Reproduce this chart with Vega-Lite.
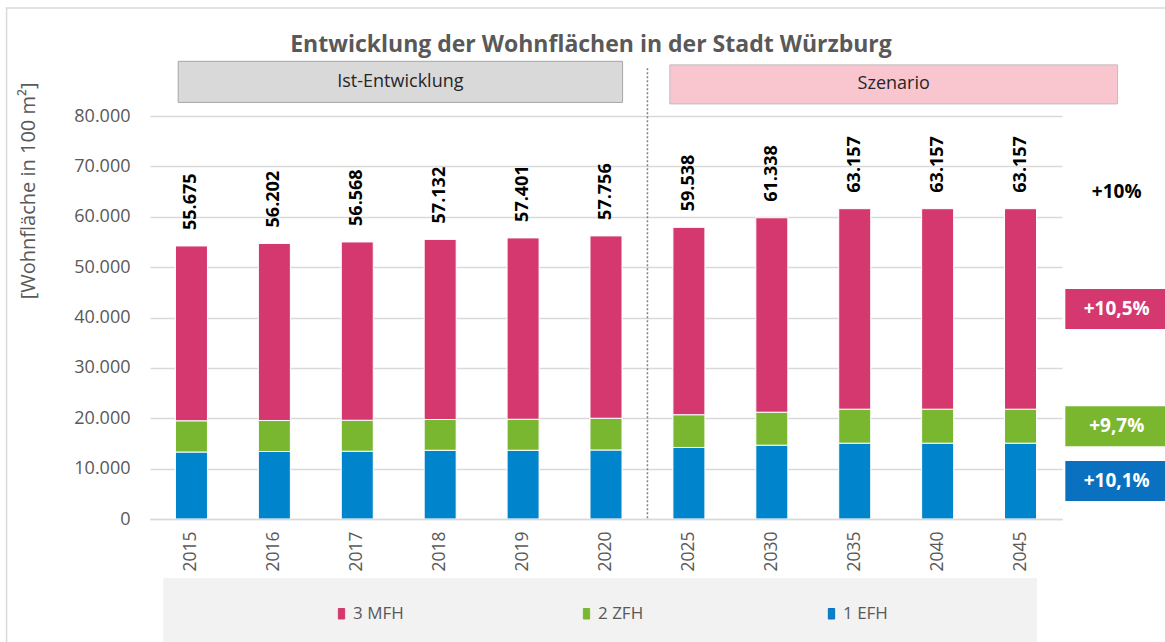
{
  "$schema": "https://vega.github.io/schema/vega-lite/v6.json",
  "width": 912,
  "height": 403,
  "autosize": {"type": "none"},
  "padding": {"left": 150, "top": 116, "right": 103, "bottom": 123},
  "background": "white",
  "config": {
    "locale": {"number": {"decimal": ",", "thousands": ".", "grouping": [3], "currency": ["", " €"]}},
    "font": "Open Sans",
    "view": {"stroke": null},
    "scale": {"bandPaddingInner": 0, "bandPaddingOuter": 0}
  },
  "title": {
    "text": "Entwicklung der Wohnflächen in der Stadt Würzburg",
    "fontSize": 23,
    "fontWeight": "bold",
    "color": "#595959",
    "anchor": "middle",
    "frame": "group",
    "dx": -15,
    "offset": -50
  },
  "datasets": {
    "werte": [
      {"jahr": "2015", "typ": "1 EFH", "wert": 13300},
      {"jahr": "2015", "typ": "2 ZFH", "wert": 6200},
      {"jahr": "2015", "typ": "3 MFH", "wert": 34700},
      {"jahr": "2016", "typ": "1 EFH", "wert": 13400},
      {"jahr": "2016", "typ": "2 ZFH", "wert": 6150},
      {"jahr": "2016", "typ": "3 MFH", "wert": 35150},
      {"jahr": "2017", "typ": "1 EFH", "wert": 13450},
      {"jahr": "2017", "typ": "2 ZFH", "wert": 6150},
      {"jahr": "2017", "typ": "3 MFH", "wert": 35400},
      {"jahr": "2018", "typ": "1 EFH", "wert": 13650},
      {"jahr": "2018", "typ": "2 ZFH", "wert": 6100},
      {"jahr": "2018", "typ": "3 MFH", "wert": 35750},
      {"jahr": "2019", "typ": "1 EFH", "wert": 13650},
      {"jahr": "2019", "typ": "2 ZFH", "wert": 6150},
      {"jahr": "2019", "typ": "3 MFH", "wert": 36000},
      {"jahr": "2020", "typ": "1 EFH", "wert": 13700},
      {"jahr": "2020", "typ": "2 ZFH", "wert": 6300},
      {"jahr": "2020", "typ": "3 MFH", "wert": 36200},
      {"jahr": "2025", "typ": "1 EFH", "wert": 14200},
      {"jahr": "2025", "typ": "2 ZFH", "wert": 6500},
      {"jahr": "2025", "typ": "3 MFH", "wert": 37200},
      {"jahr": "2030", "typ": "1 EFH", "wert": 14650},
      {"jahr": "2030", "typ": "2 ZFH", "wert": 6550},
      {"jahr": "2030", "typ": "3 MFH", "wert": 38600},
      {"jahr": "2035", "typ": "1 EFH", "wert": 15050},
      {"jahr": "2035", "typ": "2 ZFH", "wert": 6750},
      {"jahr": "2035", "typ": "3 MFH", "wert": 39800},
      {"jahr": "2040", "typ": "1 EFH", "wert": 15050},
      {"jahr": "2040", "typ": "2 ZFH", "wert": 6750},
      {"jahr": "2040", "typ": "3 MFH", "wert": 39800},
      {"jahr": "2045", "typ": "1 EFH", "wert": 15050},
      {"jahr": "2045", "typ": "2 ZFH", "wert": 6750},
      {"jahr": "2045", "typ": "3 MFH", "wert": 39800}
    ],
    "summen": [
      {"jahr": "2015", "gesamt": 55675},
      {"jahr": "2016", "gesamt": 56202},
      {"jahr": "2017", "gesamt": 56568},
      {"jahr": "2018", "gesamt": 57132},
      {"jahr": "2019", "gesamt": 57401},
      {"jahr": "2020", "gesamt": 57756},
      {"jahr": "2025", "gesamt": 59538},
      {"jahr": "2030", "gesamt": 61338},
      {"jahr": "2035", "gesamt": 63157},
      {"jahr": "2040", "gesamt": 63157},
      {"jahr": "2045", "gesamt": 63157}
    ],
    "aenderung": [
      {"typ": "3 MFH", "text": "+10,5%"},
      {"typ": "2 ZFH", "text": "+9,7%"},
      {"typ": "1 EFH", "text": "+10,1%"},
      {"typ": "Gesamt", "text": "+10%"}
    ]
  },
  "layer": [
    {
      "data": {"values": [{}]},
      "mark": {"type": "rect", "fill": null, "stroke": "#d9d9d9", "strokeWidth": 1.5},
      "encoding": {
        "x": {"datum": "2015", "type": "nominal", "bandPosition": -1.73, "scale": {"domain": ["2015","2016","2017","2018","2019","2020","2025","2030","2035","2040","2045"]}},
        "x2": {"datum": "2045", "bandPosition": 3},
        "y": {"datum": 101440, "type": "quantitative", "scale": {"domain": [0, 80000]}},
        "y2": {"datum": -30000}
      }
    },
    {
      "data": {"values": [{}]},
      "mark": {"type": "rect", "fill": "#f2f2f2"},
      "encoding": {
        "x": {"datum": "2015", "type": "nominal", "bandPosition": 0.16, "scale": {"domain": ["2015","2016","2017","2018","2019","2020","2025","2030","2035","2040","2045"]}},
        "x2": {"datum": "2045", "bandPosition": 0.7},
        "y": {"datum": -11710, "type": "quantitative", "scale": {"domain": [0, 80000]}},
        "y2": {"datum": -30000}
      }
    },
    {
      "data": {"values": [{}]},
      "mark": {"type": "rect", "fill": "#d9d9d9", "stroke": "#a6a6a6", "strokeWidth": 1},
      "encoding": {
        "x": {"datum": "2015", "type": "nominal", "bandPosition": 0.34, "scale": {"domain": ["2015","2016","2017","2018","2019","2020","2025","2030","2035","2040","2045"]}},
        "x2": {"datum": "2020", "bandPosition": 0.7},
        "y": {"datum": 90850, "type": "quantitative", "scale": {"domain": [0, 80000]}},
        "y2": {"datum": 82700}
      }
    },
    {
      "data": {"values": [{}]},
      "mark": {"type": "rect", "fill": "#f9c5cf", "stroke": "#bfbfbf", "strokeWidth": 1},
      "encoding": {
        "x": {"datum": "2025", "type": "nominal", "bandPosition": 0.27, "scale": {"domain": ["2015","2016","2017","2018","2019","2020","2025","2030","2035","2040","2045"]}},
        "x2": {"datum": "2045", "bandPosition": 1.67},
        "y": {"datum": 90150, "type": "quantitative", "scale": {"domain": [0, 80000]}},
        "y2": {"datum": 82400}
      }
    },
    {
      "data": {"values": [{}]},
      "mark": {"type": "text", "fontSize": 18, "color": "#262626", "baseline": "middle", "align": "center"},
      "encoding": {
        "x": {"datum": "2018", "type": "nominal", "bandPosition": 0.02, "scale": {"domain": ["2015","2016","2017","2018","2019","2020","2025","2030","2035","2040","2045"]}},
        "y": {"datum": 86800, "type": "quantitative", "scale": {"domain": [0, 80000]}},
        "text": {"value": "Ist-Entwicklung"}
      }
    },
    {
      "data": {"values": [{}]},
      "mark": {"type": "text", "fontSize": 18, "color": "#262626", "baseline": "middle", "align": "center"},
      "encoding": {
        "x": {"datum": "2035", "type": "nominal", "bandPosition": 0.97, "scale": {"domain": ["2015","2016","2017","2018","2019","2020","2025","2030","2035","2040","2045"]}},
        "y": {"datum": 86300, "type": "quantitative", "scale": {"domain": [0, 80000]}},
        "text": {"value": "Szenario"}
      }
    },
    {
      "data": {"values": [{}]},
      "mark": {"type": "rule", "stroke": "#7f7f7f", "strokeWidth": 1.5, "strokeDash": [2, 2]},
      "encoding": {
        "x": {"datum": "2025", "type": "nominal", "bandPosition": 0, "scale": {"domain": ["2015","2016","2017","2018","2019","2020","2025","2030","2035","2040","2045"]}},
        "y": {"datum": 89500, "type": "quantitative", "scale": {"domain": [0, 80000]}},
        "y2": {"datum": 0}
      }
    },
    {
      "data": {"name": "werte"},
      "mark": {"type": "bar", "width": {"band": 0.386}, "stroke": "white", "strokeWidth": 1},
      "encoding": {
        "x": {
          "field": "jahr", "type": "nominal",
          "scale": {"domain": ["2015","2016","2017","2018","2019","2020","2025","2030","2035","2040","2045"]},
          "axis": {"title": null, "labelAngle": 270, "ticks": false, "domainColor": "#d9d9d9", "domainWidth": 1.5, "labelColor": "#595959", "labelFontSize": 17.5, "labelPadding": 12}
        },
        "y": {
          "field": "wert", "type": "quantitative", "stack": "zero",
          "scale": {"domain": [0, 80000]},
          "axis": {
            "title": "[Wohnfläche in 100  m²]", "format": ",d", "tickCount": 8,
            "grid": true, "gridColor": "#d9d9d9", "gridWidth": 1.5,
            "domain": false, "ticks": false, "labelPadding": 20, "labelFontSize": 18, "labelColor": "#595959",
            "titleFontSize": 20, "titleFontWeight": "normal", "titleColor": "#595959",
            "titleAnchor": "end", "titleAngle": 270, "titleAlign": "right", "titleBaseline": "middle",
            "titleX": -122, "titleY": -34
          }
        },
        "color": {
          "field": "typ", "type": "nominal",
          "scale": {"domain": ["3 MFH", "2 ZFH", "1 EFH"], "range": ["#d4386f", "#78b72f", "#0084cb"]},
          "legend": {
            "orient": "none", "legendX": 183, "legendY": 489, "direction": "horizontal", "columns": 3,
            "title": null, "columnPadding": 174, "gridAlign": "all",
            "symbolType": "M-0.6,-1L0.6,-1L0.6,1L-0.6,1Z", "symbolSize": 110, "symbolStrokeColor": "white", "symbolStrokeWidth": 1,
            "labelFontSize": 17, "labelColor": "#595959", "labelOffset": 3
          }
        },
        "order": {"field": "typ", "sort": "ascending"}
      }
    },
    {
      "data": {"name": "werte"},
      "transform": [
        {"aggregate": [{"op": "sum", "field": "wert", "as": "oben"}], "groupby": ["jahr"]},
        {"lookup": "jahr", "from": {"data": {"name": "summen"}, "key": "jahr", "fields": ["gesamt"]}}
      ],
      "mark": {"type": "text", "angle": 270, "align": "left", "baseline": "middle", "dx": 16, "fontSize": 18, "fontWeight": "bold", "color": "black"},
      "encoding": {
        "x": {"field": "jahr", "type": "nominal", "scale": {"domain": ["2015","2016","2017","2018","2019","2020","2025","2030","2035","2040","2045"]}},
        "y": {"field": "oben", "type": "quantitative", "scale": {"domain": [0, 80000]}},
        "text": {"field": "gesamt", "type": "quantitative", "format": ",d"}
      }
    },
    {
      "data": {"name": "werte"},
      "transform": [
        {"filter": "datum.jahr == '2045'"},
        {"stack": "wert", "groupby": ["jahr"], "sort": [{"field": "typ", "order": "ascending"}], "as": ["y0", "y1"]},
        {"calculate": "(datum.y0 + datum.y1) / 2", "as": "mitte"},
        {"lookup": "typ", "from": {"data": {"name": "aenderung"}, "key": "typ", "fields": ["text"]}}
      ],
      "layer": [
        {
          "mark": {"type": "rule", "strokeWidth": 40, "strokeCap": "butt"},
          "encoding": {
            "x": {"field": "jahr", "type": "nominal", "bandPosition": 1.04, "scale": {"domain": ["2015","2016","2017","2018","2019","2020","2025","2030","2035","2040","2045"]}},
            "x2": {"field": "jahr", "bandPosition": 2.4},
            "y": {"field": "mitte", "type": "quantitative", "scale": {"domain": [0, 80000]}},
            "stroke": {"field": "typ", "type": "nominal", "legend": null, "scale": {"domain": ["3 MFH", "2 ZFH", "1 EFH"], "range": ["#d4386f", "#7ab72f", "#0a70c0"]}}
          }
        },
        {
          "mark": {"type": "text", "fontSize": 19, "fontWeight": "bold", "color": "white", "align": "center", "baseline": "middle"},
          "encoding": {
            "x": {"field": "jahr", "type": "nominal", "bandPosition": 1.66, "scale": {"domain": ["2015","2016","2017","2018","2019","2020","2025","2030","2035","2040","2045"]}},
            "y": {"field": "mitte", "type": "quantitative", "scale": {"domain": [0, 80000]}},
            "text": {"field": "text", "type": "nominal"}
          }
        }
      ]
    },
    {
      "data": {"name": "werte"},
      "transform": [
        {"filter": "datum.jahr == '2045'"},
        {"aggregate": [{"op": "sum", "field": "wert", "as": "oben"}], "groupby": ["jahr"]},
        {"calculate": "'Gesamt'", "as": "typ"},
        {"lookup": "typ", "from": {"data": {"name": "aenderung"}, "key": "typ", "fields": ["text"]}}
      ],
      "mark": {"type": "text", "fontSize": 19, "fontWeight": "bold", "color": "black", "align": "center", "baseline": "middle", "dy": -17},
      "encoding": {
        "x": {"field": "jahr", "type": "nominal", "bandPosition": 1.66, "scale": {"domain": ["2015","2016","2017","2018","2019","2020","2025","2030","2035","2040","2045"]}},
        "y": {"field": "oben", "type": "quantitative", "scale": {"domain": [0, 80000]}},
        "text": {"field": "text", "type": "nominal"}
      }
    }
  ]
}
